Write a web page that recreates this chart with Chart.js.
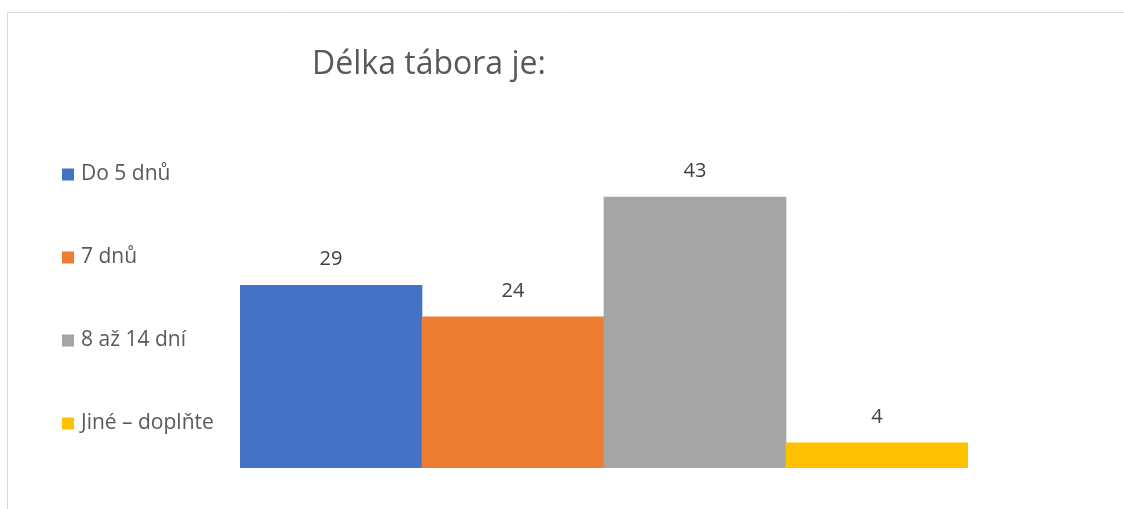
<!DOCTYPE html>
<html>
<head>
<meta charset="utf-8">
<script src="https://cdn.jsdelivr.net/npm/chart.js@4/dist/chart.umd.min.js"></script>
<style>
html,body{margin:0;padding:0;background:#fff;}
#wrap{width:1124px;height:509px;position:relative;}
</style>
</head>
<body>
<div id="wrap"><canvas id="c" width="1124" height="509"></canvas></div>
<script>
const chartTitle = "Délka tábora je:";
const categories = ["Do 5 dnů", "7 dnů", "8 až 14 dní", "Jiné – doplňte"];
const values = [29, 24, 43, 4];
const colors = ["#4472C4", "#ED7D31", "#A5A5A5", "#FFC000"];

const FONT = "'Open Sans', 'Liberation Sans', sans-serif";

const decor = {
  id: 'decor',
  beforeDraw(chart) {
    const ctx = chart.ctx;
    ctx.save();
    ctx.strokeStyle = '#d9d9d9';
    ctx.lineWidth = 1;
    ctx.beginPath();
    ctx.moveTo(7.5, 509);
    ctx.lineTo(7.5, 12.5);
    ctx.lineTo(1124, 12.5);
    ctx.stroke();
    ctx.restore();
  },
  afterDraw(chart) {
    const ctx = chart.ctx;
    ctx.save();
    // title
    ctx.fillStyle = '#595959';
    ctx.font = "32px " + FONT;
    ctx.textAlign = 'center';
    ctx.textBaseline = 'middle';
    ctx.fillText(chartTitle, 429, 65);
    // legend
    ctx.font = "21px " + FONT;
    ctx.textAlign = 'left';
    categories.forEach((lab, i) => {
      const y = 174.5 + i * 83;
      ctx.fillStyle = colors[i];
      ctx.fillRect(62, y - 6, 12, 12);
      ctx.fillStyle = '#595959';
      ctx.fillText(lab, 81, y);
    });
    // data labels
    const meta = chart.getDatasetMeta(0);
    ctx.fillStyle = '#404040';
    ctx.textAlign = 'center';
    ctx.font = "20px " + FONT;
    meta.data.forEach((bar, i) => {
      ctx.fillText(String(values[i]), bar.x, bar.y - 26);
    });
    ctx.restore();
  }
};

new Chart(document.getElementById('c'), {
  type: 'bar',
  data: {
    labels: categories,
    datasets: [{
      data: values,
      backgroundColor: colors,
      borderWidth: 0,
      categoryPercentage: 1.0,
      barPercentage: 1.0
    }]
  },
  options: {
    responsive: false,
    animation: false,
    layout: { padding: { left: 240, right: 156, top: 153, bottom: 41 } },
    plugins: {
      legend: { display: false },
      title: { display: false },
      tooltip: { enabled: false }
    },
    scales: {
      x: { display: false },
      y: { display: false, min: 0, max: 50 }
    }
  },
  plugins: [decor]
});
</script>
</body>
</html>
